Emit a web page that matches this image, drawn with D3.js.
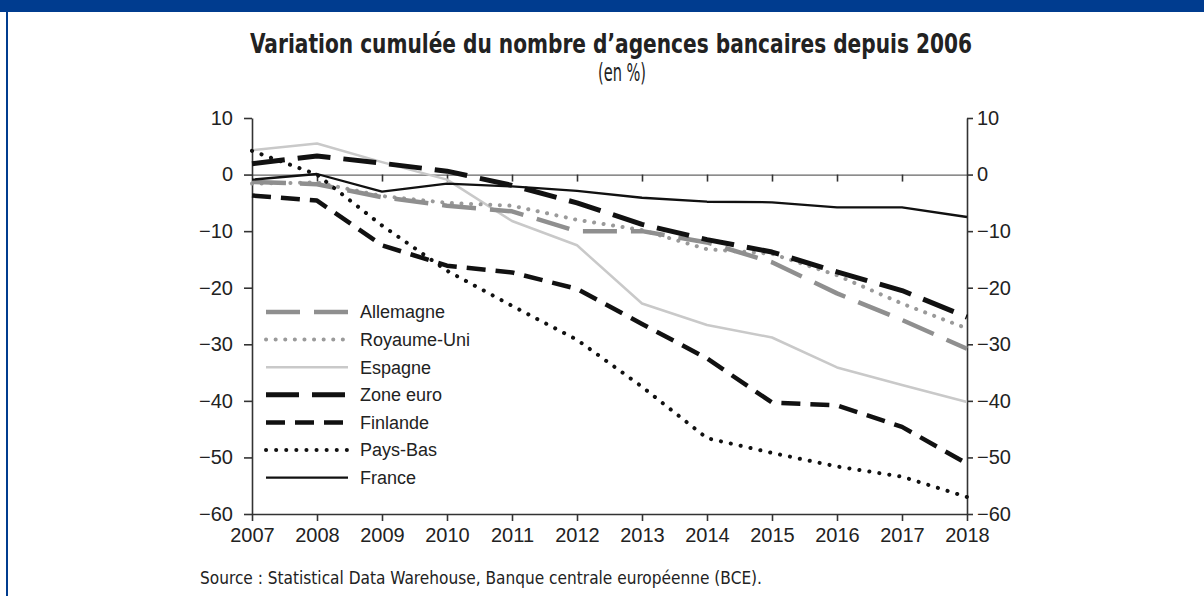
<!DOCTYPE html>
<html>
<head>
<meta charset="utf-8">
<script src="https://cdn.jsdelivr.net/npm/d3@7"></script>
<style>
  body { margin: 0; background: #fff; }
  svg { display: block; }
  .axis text { font-family: "Liberation Sans", Arial, sans-serif; font-size: 20px; fill: #222; }
  .axis path, .axis line { stroke: #333; stroke-width: 1.6; }
</style>
</head>
<body>
<div id="chart"></div>
<script>
// years on the x axis
const years = [2007, 2008, 2009, 2010, 2011, 2012, 2013, 2014, 2015, 2016, 2017, 2018];
const yTicks = [10, 0, -10, -20, -30, -40, -50, -60];

// cumulated change since 2006, in %
const allemagne  = [-1.3, -1.7, -4.0, -5.5, -6.5, -10.0, -10.0, -12.0, -15.5, -21.0, -25.7, -30.8];
const royaumeUni = [-1.6, -1.4, -3.8, -5.0, -5.5, -8.0, -9.8, -13.2, -14.0, -17.8, -22.8, -27.2];
const espagne    = [4.3, 5.5, 2.2, -0.9, -8.2, -12.5, -22.8, -26.6, -28.8, -34.1, -37.2, -40.2];
const zoneEuro   = [1.9, 3.3, 2.0, 0.6, -1.9, -5.0, -8.8, -11.5, -13.7, -17.2, -20.5, -25.2];
const finlande   = [-3.7, -4.6, -12.5, -16.1, -17.3, -20.2, -26.4, -32.5, -40.3, -40.8, -44.6, -51.1];
const paysBas    = [4.2, 0.0, -9.0, -17.0, -23.2, -29.2, -37.5, -46.6, -49.2, -51.6, -53.4, -57.0];
const france     = [-0.9, 0.1, -3.0, -1.6, -2.1, -2.9, -4.1, -4.8, -4.9, -5.8, -5.8, -7.5];

const seriesNames = ["Allemagne", "Royaume-Uni", "Espagne", "Zone euro", "Finlande", "Pays-Bas", "France"];
const seriesValues = [allemagne, royaumeUni, espagne, zoneEuro, finlande, paysBas, france];

// line look per series (same order as seriesNames)
const styles = [
  {color: "#8f8f8f", width: 4.5, dash: "34,14", cap: "butt"},
  {color: "#9a9a9a", width: 4, dash: "0.1,9.5", cap: "round"},
  {color: "#c9c9c9", width: 2.5, dash: null, cap: "butt"},
  {color: "#111", width: 5, dash: "33,13", cap: "butt"},
  {color: "#111", width: 4.5, dash: "19,10", cap: "butt"},
  {color: "#111", width: 4, dash: "0.1,10", cap: "round"},
  {color: "#111", width: 2.3, dash: null, cap: "butt"}
];
const drawOrder = [2, 1, 0, 6, 4, 5, 3];

const W = 1204, H = 596;
const margin = {top: 118, right: 237, bottom: 82, left: 252};
const width = W - margin.left - margin.right;
const height = H - margin.top - margin.bottom;

const narrow = "'Liberation Sans Narrow', 'DejaVu Sans Condensed', Roboto, sans-serif";

const svg = d3.select("#chart").append("svg")
  .attr("width", W)
  .attr("height", H);

// frame: blue band on top and a thin blue rule on the left
svg.append("rect").attr("x", 0).attr("y", 0).attr("width", W).attr("height", 12).attr("fill", "#003c8f");
svg.append("rect").attr("x", 6).attr("y", 0).attr("width", 2).attr("height", H).attr("fill", "#003c8f");

svg.append("text")
  .attr("x", 611).attr("y", 53)
  .attr("text-anchor", "middle")
  .attr("textLength", 722).attr("lengthAdjust", "spacingAndGlyphs")
  .style("font-family", narrow)
  .style("font-weight", "bold").style("font-size", "27px").style("fill", "#222")
  .text("Variation cumulée du nombre d’agences bancaires depuis 2006");

svg.append("text")
  .attr("x", 622).attr("y", 81)
  .attr("text-anchor", "middle")
  .attr("textLength", 48).attr("lengthAdjust", "spacingAndGlyphs")
  .style("font-family", narrow)
  .style("font-size", "25px").style("fill", "#222")
  .text("(en %)");

svg.append("text")
  .attr("x", 200).attr("y", 584)
  .attr("textLength", 562).attr("lengthAdjust", "spacingAndGlyphs")
  .style("font-family", narrow)
  .style("font-size", "18px").style("fill", "#222")
  .text("Source : Statistical Data Warehouse, Banque centrale européenne (BCE).");

const g = svg.append("g")
  .attr("transform", "translate(" + margin.left + "," + margin.top + ")");

const x = d3.scaleLinear().domain([2007, 2018]).range([0, width]);
const y = d3.scaleLinear().domain([10, -60]).range([0, height]);

const fmt = d => d3.format("d")(d).replace("-", "−");

// zero line with small ticks under it
g.append("g")
  .attr("class", "axis")
  .attr("transform", "translate(0," + y(0) + ")")
  .call(d3.axisBottom(x).tickValues(years.slice(1, -1)).tickSize(7).tickSizeOuter(0).tickFormat(""))
  .call(s => s.select(".domain").style("stroke", "#666").style("stroke-width", 1.2));

g.append("g")
  .attr("class", "axis")
  .attr("transform", "translate(0," + height + ")")
  .call(d3.axisBottom(x).tickValues(years).tickSize(7).tickSizeOuter(0).tickPadding(7).tickFormat(d3.format("d")));

g.append("g")
  .attr("class", "axis")
  .call(d3.axisLeft(y).tickValues(yTicks).tickSize(8).tickSizeOuter(0).tickPadding(11).tickFormat(fmt));

g.append("g")
  .attr("class", "axis")
  .attr("transform", "translate(" + width + ",0)")
  .call(d3.axisRight(y).tickValues(yTicks).tickSize(6).tickSizeOuter(0).tickPadding(4).tickFormat(fmt));

const line = d3.line()
  .x((d, i) => x(years[i]))
  .y(d => y(d));

drawOrder.forEach(k => {
  const st = styles[k];
  g.append("path")
    .datum(seriesValues[k])
    .attr("fill", "none")
    .attr("stroke", st.color)
    .attr("stroke-width", st.width)
    .attr("stroke-dasharray", st.dash)
    .attr("stroke-linecap", st.cap)
    .attr("stroke-linejoin", "round")
    .attr("d", line);
});

// legend
const legend = g.append("g").attr("transform", "translate(14," + (312 - margin.top) + ")");
seriesNames.forEach((name, i) => {
  const st = styles[i];
  const row = legend.append("g").attr("transform", "translate(0," + i * 27.6 + ")");
  row.append("line")
    .attr("x1", 0).attr("x2", 82)
    .attr("stroke", st.color)
    .attr("stroke-width", st.width)
    .attr("stroke-dasharray", st.dash)
    .attr("stroke-linecap", st.cap);
  row.append("text")
    .attr("x", 94).attr("dy", "0.35em")
    .style("font-family", "'Liberation Sans', Arial, sans-serif")
    .style("font-size", "18px").style("fill", "#222")
    .text(name);
});
</script>
</body>
</html>
